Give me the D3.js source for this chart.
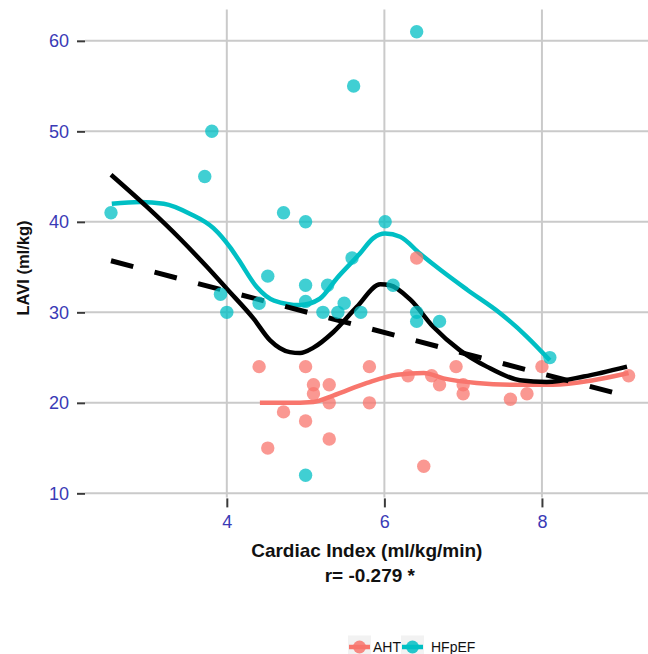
<!DOCTYPE html>
<html>
<head>
<meta charset="utf-8">
<script src="https://cdn.jsdelivr.net/npm/d3@7"></script>
<style>
  html, body { margin: 0; padding: 0; background: #ffffff; }
  svg { display: block; font-family: "Liberation Sans", Arial, sans-serif; }
</style>
</head>
<body>
<svg id="chart" width="648" height="654"></svg>
<script>
// Cardiac index vs LAVI, by group
const groups = ["AHT", "HFpEF"];
const groupColors = ["#F8766D", "#00BFC4"];

const ahtCI   = [4.41, 4.52, 4.72, 5.0, 5.0, 5.1, 5.1, 5.3, 5.3, 5.3, 5.81, 5.81, 6.3, 6.41, 6.5, 6.6, 6.7, 6.91, 7.0, 7.0, 7.6, 7.81, 8.0, 9.1];
const ahtLAVI = [24, 15, 19, 24, 18, 22, 21, 22, 20, 16, 24, 20, 23, 36, 13, 23, 22, 24, 22, 21, 20.4, 21, 24, 23];

const hfCI   = [2.53, 3.72, 3.81, 3.92, 4.0, 4.41, 4.52, 4.72, 5.0, 5.0, 5.0, 5.0, 5.22, 5.28, 5.41, 5.49, 5.59, 5.61, 5.7, 6.01, 6.11, 6.41, 6.41, 6.41, 6.7, 8.1];
const hfLAVI = [41, 45, 50, 32, 30, 31, 34, 41, 40, 33, 31.2, 12, 30, 33, 30, 31, 36, 55, 30, 40, 33, 61, 30, 29, 29, 25];

// Smoothed trends (loess per group, loess overall) and overall linear fit
const ahtSmooth = [[4.42,20.0],[4.76,20.0],[5.1,20.1],[5.35,20.8],[5.78,22.2],[6.16,23.1],[6.5,23.3],[6.75,22.7],[7.17,22.2],[7.68,22.0],[8.14,22.0],[8.65,22.5],[9.1,23.3]];
const hfSmooth = [[2.54,42.0],[2.9,42.2],[3.2,42.0],[3.53,40.9],[3.83,39.3],[4.04,37.2],[4.15,35.8],[4.38,32.8],[4.6,31.3],[4.93,30.8],[5.18,31.5],[5.4,33.8],[5.69,36.5],[5.86,38.2],[6.01,38.7],[6.2,38.35],[6.45,36.5],[6.71,34.7],[7.05,32.5],[7.47,29.9],[7.81,27.3],[8.1,24.7]];
const allSmooth = [[2.53,45.2],[2.98,41.7],[3.41,38.1],[3.75,35.0],[4.0,32.6],[4.34,29.3],[4.55,26.9],[4.8,25.6],[4.93,25.5],[5.1,26.1],[5.35,27.8],[5.65,30.6],[5.95,33.1],[6.07,33.0],[6.33,31.4],[6.62,28.4],[6.96,25.8],[7.3,24.0],[7.72,22.5],[8.06,22.3],[8.53,22.9],[9.08,24.0]];
const linearFit = [[2.53,35.7],[9.1,20.7]];

const xTicks = [4, 6, 8];
const yTicks = [10, 20, 30, 40, 50, 60];

const xTitle = "Cardiac Index (ml/kg/min)";
const corrLabel = "r= -0.279 *";
const yTitle = "LAVI (ml/kg)";

const svg = d3.select("#chart");
const panel = { left: 85, right: 654.6, top: 9.6, bottom: 497.4 };

const x = d3.scaleLinear().domain([2.2, 9.43]).range([panel.left, panel.right]);
const y = d3.scaleLinear().domain([9.55, 63.45]).range([panel.bottom, panel.top]);

const tickColor = "#3a3ab6";
const gridColor = "#cacaca";

// grid
const grid = svg.append("g");
grid.selectAll("line.hy").data(yTicks).join("line")
  .attr("x1", panel.left).attr("x2", panel.right)
  .attr("y1", d => y(d)).attr("y2", d => y(d))
  .attr("stroke", gridColor).attr("stroke-width", 2);
grid.selectAll("line.vx").data(xTicks).join("line")
  .attr("y1", panel.top).attr("y2", panel.bottom)
  .attr("x1", d => x(d)).attr("x2", d => x(d))
  .attr("stroke", gridColor).attr("stroke-width", 2);

// axes
const yAxis = svg.append("g")
  .attr("transform", `translate(${panel.left},0)`)
  .call(d3.axisLeft(y).tickValues(yTicks).tickSize(8).tickPadding(8).tickFormat(d3.format("d")));
const xAxis = svg.append("g")
  .attr("transform", `translate(0,${panel.bottom + 1})`)
  .call(d3.axisBottom(x).tickValues(xTicks).tickSize(9).tickPadding(8).tickFormat(d3.format("d")));
[yAxis, xAxis].forEach(a => {
  a.select(".domain").remove();
  a.selectAll(".tick line").attr("stroke", "#3a3a3a").attr("stroke-width", 2);
  a.selectAll(".tick text").attr("fill", tickColor).attr("font-size", 18)
    .attr("font-family", "Liberation Sans, Arial, sans-serif");
});

// trend lines
const line = d3.line().x(d => x(d[0])).y(d => y(d[1])).curve(d3.curveMonotoneX);
const lines = svg.append("g").attr("fill", "none").attr("stroke-linecap", "butt").attr("stroke-linejoin", "round");
lines.append("path").attr("d", line(ahtSmooth)).attr("stroke", groupColors[0]).attr("stroke-width", 4.5);
lines.append("path").attr("d", line(hfSmooth)).attr("stroke", groupColors[1]).attr("stroke-width", 4.5);
lines.append("path").attr("d", line(allSmooth)).attr("stroke", "#000").attr("stroke-width", 4.5);
lines.append("path").attr("d", d3.line().x(d => x(d[0])).y(d => y(d[1]))(linearFit))
  .attr("stroke", "#000").attr("stroke-width", 5).attr("stroke-dasharray", "23,22");

// points
const pts = svg.append("g");
const series = [
  { ci: ahtCI, lavi: ahtLAVI, color: groupColors[0] },
  { ci: hfCI, lavi: hfLAVI, color: groupColors[1] }
];
series.forEach(s => {
  pts.append("g").selectAll("circle").data(d3.range(s.ci.length)).join("circle")
    .attr("cx", i => x(s.ci[i])).attr("cy", i => y(s.lavi[i]))
    .attr("r", 6.7).attr("fill", s.color).attr("fill-opacity", 0.75);
});

// titles
const cx = (panel.left + panel.right) / 2;
svg.append("text").attr("x", cx - 3).attr("y", 557).attr("text-anchor", "middle")
  .attr("font-size", 19).attr("font-weight", "bold").attr("fill", "#111").text(xTitle);
svg.append("text").attr("x", cx).attr("y", 582).attr("text-anchor", "middle")
  .attr("font-size", 19).attr("font-weight", "bold").attr("fill", "#111").text(corrLabel);
svg.append("text").attr("transform", "translate(29,268) rotate(-90)").attr("text-anchor", "middle")
  .attr("font-size", 16.5).attr("font-weight", "bold").attr("fill", "#111").text(yTitle);

// legend
const legend = svg.append("g").attr("transform", "translate(348,647)");
const keyW = 23;
const labelW = [30, 50];
let offset = 0;
groups.forEach((g, i) => {
  const k = legend.append("g").attr("transform", `translate(${offset},0)`);
  k.append("rect").attr("x", 0).attr("y", -11.5).attr("width", keyW).attr("height", 23).attr("fill", "#f2f2f2");
  k.append("line").attr("x1", 1).attr("x2", keyW - 1).attr("y1", 0).attr("y2", 0)
    .attr("stroke", groupColors[i]).attr("stroke-width", 4.5);
  k.append("circle").attr("cx", keyW / 2).attr("cy", 0).attr("r", 6.5).attr("fill", groupColors[i]).attr("fill-opacity", 0.85);
  k.append("text").attr("x", keyW + (i === 0 ? 2 : 7)).attr("y", 5).attr("font-size", 14).attr("fill", "#111").text(g);
  offset += keyW + labelW[i];
});
</script>
</body>
</html>
